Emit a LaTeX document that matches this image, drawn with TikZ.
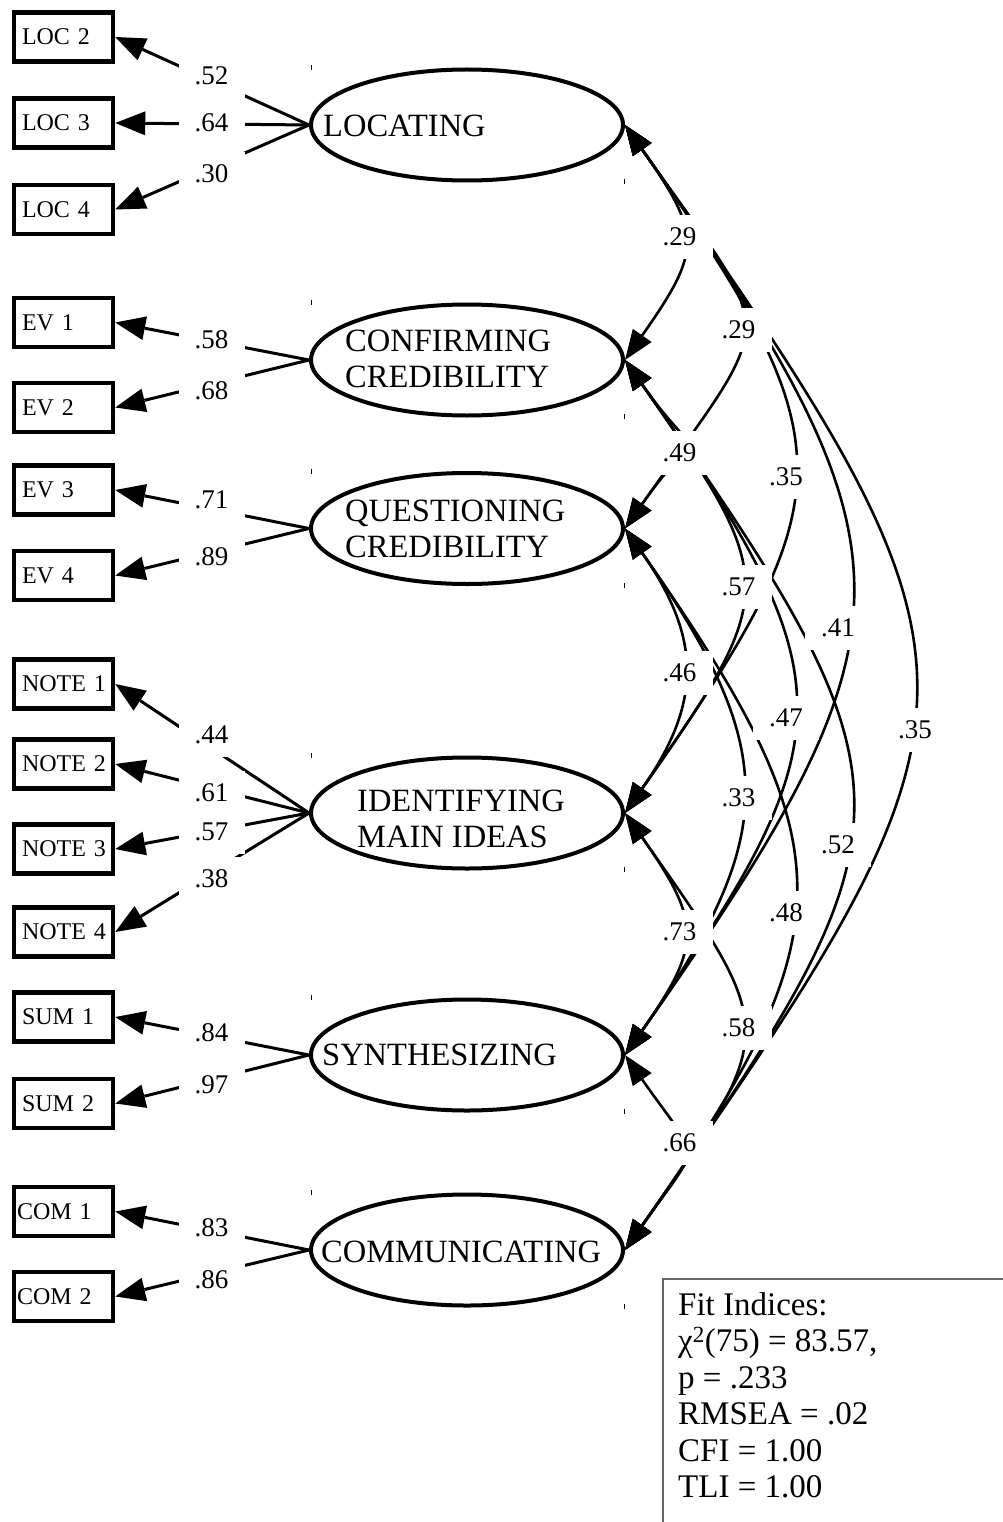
\documentclass[tikz,border=0pt]{standalone}
\usepackage{fontspec}
\setmainfont{Liberation Serif}
\usetikzlibrary{shapes.geometric,arrows.meta}
\newcommand\obsfont{\fontsize{24}{28}\selectfont}
\newcommand\latfont{\fontsize{32.5}{36.5}\selectfont}
\newcommand\numfont{\fontsize{27}{31}\selectfont}
\newcommand\fitfont{\fontsize{33}{36.5}\selectfont}
\begin{document}
\begin{tikzpicture}[x=1pt,y=-1pt,
  obs/.style={draw, line width=4.5pt, minimum height=49pt, text width=83pt, inner xsep=8pt, inner ysep=0pt, align=left, font=\obsfont},
  obsc/.style={obs, text width=93pt, inner xsep=3pt},
  lat/.style={draw, ellipse, line width=4pt, minimum width=312pt, minimum height=111pt, inner sep=0pt, fill=white},
  lattext/.style={anchor=west, inner sep=0pt, align=left, font=\latfont},
  load/.style={line width=3pt, -{Triangle[length=30pt,width=24pt,line width=0pt]}},
  cov/.style={line width=2.6pt, {Triangle[length=30pt,width=23pt,line width=0pt]}-{Triangle[length=30pt,width=23pt,line width=0pt]}},
  lab/.style={fill=white, inner sep=0pt, minimum width=66pt, minimum height=44pt, font=\numfont},
  tickmark/.style={line width=1.2pt},
  fitframe/.style={draw=black!60, line width=1.4pt}
]
\useasboundingbox (0,0) rectangle (1002,1522);

% latent variables
\node[lat] (L)  at (467,125) {};
\node[lat] (CC) at (467,360) {};
\node[lat] (QC) at (467,528.5) {};
\node[lat] (IM) at (467,813) {};
\node[lat] (S)  at (467,1055) {};
\node[lat] (C)  at (467,1250) {};

\node[lattext] (tL)  at (323,126) {LOCATING};
\node[lattext] (tCC) at (345,359) {CONFIRMING\\CREDIBILITY};
\node[lattext] (tQC) at (345,529) {QUESTIONING\\CREDIBILITY};
\node[lattext] (tIM) at (357,819) {IDENTIFYING\\MAIN IDEAS};
\node[lattext] (tS)  at (322,1055) {SYNTHESIZING};
\node[lattext] (tC)  at (321,1252) {COMMUNICATING};

\foreach \n in {L,CC,QC,IM,S,C}{
  \draw[tickmark] (\n.west |- \n.north) ++(2.5,-2.5) -- ++(0,5);
  \draw[tickmark] (\n.east |- \n.south) ++(-0.5,-3.5) -- ++(0,5);
}

% observed variables
\node[obs] (loc2) at (63.5,37) {LOC~2};
\node[obs] (loc3) at (63.5,123) {LOC~3};
\node[obs] (loc4) at (63.5,209.5) {LOC~4};
\node[obs] (ev1) at (63.5,322.5) {EV~1};
\node[obs] (ev2) at (63.5,407.5) {EV~2};
\node[obs] (ev3) at (63.5,490) {EV~3};
\node[obs] (ev4) at (63.5,575.5) {EV~4};
\node[obs] (note1) at (63.5,684) {NOTE~1};
\node[obs] (note2) at (63.5,764) {NOTE~2};
\node[obs] (note3) at (63.5,849) {NOTE~3};
\node[obs] (note4) at (63.5,932) {NOTE~4};
\node[obs] (sum1) at (63.5,1017) {SUM~1};
\node[obs] (sum2) at (63.5,1103.5) {SUM~2};
\node[obsc] (com1) at (63.5,1211.5) {COM~1};
\node[obsc] (com2) at (63.5,1296.5) {COM~2};

% loadings
\draw[load] (L.west) -- (loc2.east);
\draw[load] (L.west) -- (loc3.east);
\draw[load] (L.west) -- (loc4.east);
\draw[load] (CC.west) -- (ev1.east);
\draw[load] (CC.west) -- (ev2.east);
\draw[load] (QC.west) -- (ev3.east);
\draw[load] (QC.west) -- (ev4.east);
\draw[load] (IM.west) -- (note1.east);
\draw[load] (IM.west) -- (note2.east);
\draw[load] (IM.west) -- (note3.east);
\draw[load] (IM.west) -- (note4.east);
\draw[load] (S.west) -- (sum1.east);
\draw[load] (S.west) -- (sum2.east);
\draw[load] (C.west) -- (com1.east);
\draw[load] (C.west) -- (com2.east);

% covariances
\draw[cov] (L.east)  .. controls +(77,110) and +(77,-110) .. (CC.east);
\draw[cov] (CC.east) .. controls +(77,110) and +(77,-110) .. (QC.east);
\draw[cov] (QC.east) .. controls +(77,110) and +(77,-110) .. (IM.east);
\draw[cov] (IM.east) .. controls +(77,110) and +(77,-110) .. (S.east);
\draw[cov] (S.east)  .. controls +(77,110) and +(77,-110) .. (C.east);
\draw[cov] (L.east)  .. controls +(155,221) and +(155,-221) .. (QC.east);
\draw[cov] (CC.east) .. controls +(155,221) and +(155,-221) .. (IM.east);
\draw[cov] (QC.east) .. controls +(155,221) and +(155,-221) .. (S.east);
\draw[cov] (IM.east) .. controls +(155,221) and +(155,-221) .. (C.east);
\draw[cov] (L.east)  .. controls +(224,320) and +(224,-320) .. (IM.east);
\draw[cov] (CC.east) .. controls +(224,320) and +(224,-320) .. (S.east);
\draw[cov] (QC.east) .. controls +(224,320) and +(224,-320) .. (C.east);
\draw[cov] (L.east)  .. controls +(300,428) and +(300,-428) .. (S.east);
\draw[cov] (CC.east) .. controls +(300,428) and +(300,-428) .. (C.east);
\draw[cov] (L.east)  .. controls +(384,548) and +(384,-548) .. (C.east);

% loading labels
\node[lab] (l1) at (211.5,76) {.52};
\node[lab] (l2) at (211.5,123) {.64};
\node[lab] (l3) at (211.5,174) {.30};
\node[lab] (l4) at (211.5,340) {.58};
\node[lab] (l5) at (211.5,391) {.68};
\node[lab] (l6) at (211.5,500) {.71};
\node[lab] (l7) at (211.5,557) {.89};
\node[lab] (l8) at (211.5,735) {.44};
\node[lab] (l9) at (211.5,793) {.61};
\node[lab] (l10) at (211.5,832) {.57};
\node[lab] (l11) at (211.5,879) {.38};
\node[lab] (l12) at (211.5,1033) {.84};
\node[lab] (l13) at (211.5,1085) {.97};
\node[lab] (l14) at (211.5,1228) {.83};
\node[lab] (l15) at (211.5,1280) {.86};

% covariance labels
\node[lab] (c1) at (679.5,237) {.29};
\node[lab] (c2) at (738.5,330) {.29};
\node[lab] (c3) at (679.5,453) {.49};
\node[lab] (c4) at (786,477) {.35};
\node[lab] (c5) at (738.5,587) {.57};
\node[lab] (c6) at (838,628) {.41};
\node[lab] (c7) at (679.5,673) {.46};
\node[lab] (c8) at (786,718) {.47};
\node[lab] (c9) at (915,730) {.35};
\node[lab] (c10) at (738.5,798) {.33};
\node[lab] (c11) at (838,845) {.52};
\node[lab] (c12) at (786,913) {.48};
\node[lab] (c13) at (679.5,932) {.73};
\node[lab] (c14) at (738.5,1028) {.58};
\node[lab] (c15) at (679.5,1143) {.66};

% fit indices
\node[anchor=north west, inner sep=0pt, align=left, font=\fitfont] (fit) at (678,1292)
  {Fit Indices:\\χ\textsuperscript{2}(75) = 83.57,\\p = .233\\RMSEA = .02\\CFI = 1.00\\TLI = 1.00};
\draw[fitframe] (fit.north west) ++(-15,-13) ++(0,300) -- ++(0,-300) -- ++(400,0);
\end{tikzpicture}
\end{document}
